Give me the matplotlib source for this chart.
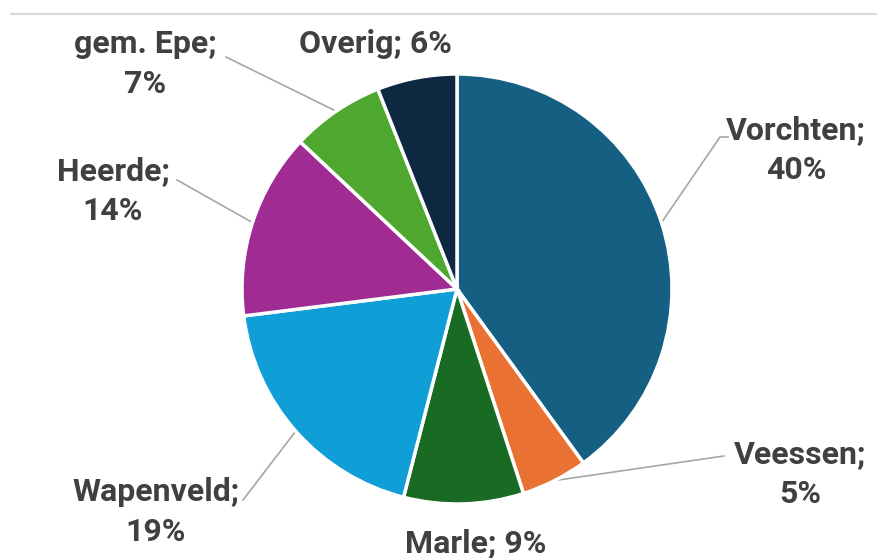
import numpy as np
import matplotlib.pyplot as plt

# --- data ---
labels = ["Vorchten", "Veessen", "Marle", "Wapenveld", "Heerde", "gem. Epe", "Overig"]
shares = [40, 5, 9, 19, 14, 7, 6]
colors = ["#156082", "#E97132", "#196B24", "#0F9ED5", "#A02B93", "#4EA72E", "#0E2841"]

# label layout in pixel coords (x, y from top), two lines or one
label_pos = {
    "Vorchten": (796, 150, True),
    "Veessen": (800, 474, True),
    "Marle": (476, 543, False),
    "Wapenveld": (156, 512, True),
    "Heerde": (113, 191, True),
    "gem. Epe": (145, 64, True),
    "Overig": (375, 44, False),
}
# leader line start points (pixel coords)
leader_start = {
    "Vorchten": [(728, 137), (720, 137)],
    "Veessen": [(724, 456)],
    "Wapenveld": [(243, 500)],
    "Heerde": [(177, 180)],
    "gem. Epe": [(226, 57)],
}

W, H = 878, 558
fig = plt.figure(figsize=(W / 100, H / 100), dpi=100)
ax = fig.add_axes([0, 0, 1, 1])

cx, cy, r = 457, H - 289, 215
wedges, _ = ax.pie(shares, colors=colors, startangle=90, counterclock=False,
                   center=(cx, cy), radius=r, frame=True,
                   wedgeprops=dict(edgecolor="white", linewidth=2.5))
ax.set_xlim(0, W)
ax.set_ylim(0, H)
ax.axis("off")

# thin top border line
ax.plot([10, W], [H - 14, H - 14], color="#d9d9d9", lw=1.5, solid_capstyle="butt")

font = dict(family=["Roboto", "DejaVu Sans"], weight="bold",
            size=23, color="#404040")

for lab, val, w in zip(labels, shares, wedges):
    x, y, two = label_pos[lab]
    txt = f"{lab};\n{val}%" if two else f"{lab}; {val}%"
    ax.text(x, H - y, txt, ha="center", va="center", linespacing=1.4, **font)
    if lab in leader_start:
        ang = np.deg2rad((w.theta1 + w.theta2) / 2)
        ex, ey = cx + r * np.cos(ang), cy + r * np.sin(ang)
        pts = leader_start[lab]
        xs = [p[0] for p in pts] + [ex]
        ys = [H - p[1] for p in pts] + [ey]
        ax.plot(xs, ys, color="#a6a6a6", lw=1.2, zorder=0.5)

fig.savefig("out.png", dpi=100, facecolor="white")
